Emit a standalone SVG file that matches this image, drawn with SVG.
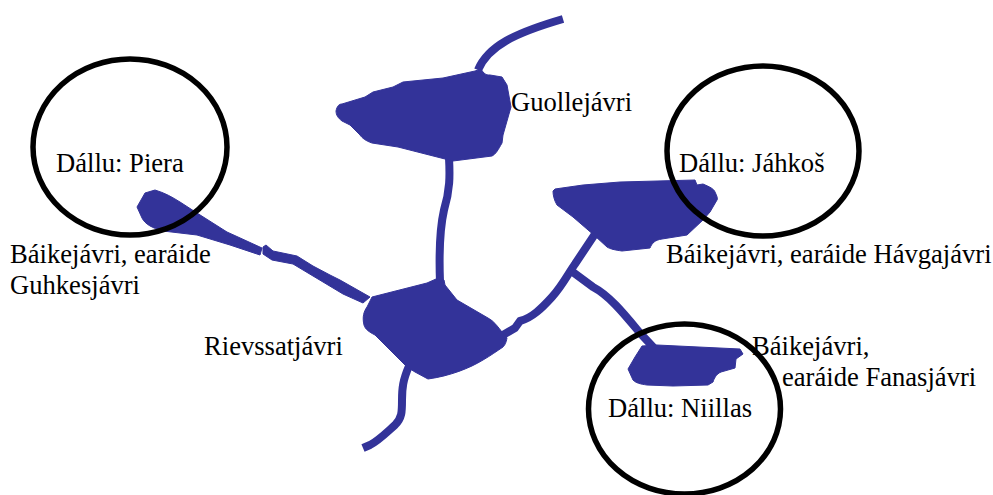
<svg xmlns="http://www.w3.org/2000/svg" width="993" height="495" viewBox="0 0 993 495">
<style>
.lake{fill:#333399;stroke:#333399;stroke-width:1;stroke-linejoin:round}
.river{fill:none;stroke:#333399;stroke-width:8;stroke-linejoin:round}
.ring{fill:none;stroke:#000;stroke-width:5.5}
text{font-family:"Liberation Serif","Times New Roman",serif;font-size:26.6px;fill:#000}
</style>
<rect width="993" height="495" fill="#fff"/>
<g id="connectors">
<path class="river" d="M478,70C488,46 515,33 563,19"/>
<path class="river" d="M449,158C450,176 450,190 444,210C439,232 439,255 440,282"/>
<path class="river" d="M409,366C403,380 402,388 402,400C402,412 402,418 395,425C385,434 378,441 370,445L363,448"/>
<path class="river" d="M503,335L515,328L520,321C532,318 542,308 552,297C562,286 568,274 575,264L595,234"/>
<path class="river" d="M570,270L593,287C610,296 625,315 640,333L654,348"/>
<path class="lake" d="M263,247L266,245L273,251L297,256L313,266L330,275L340,280L370,297L363,303L343,294L333,288L313,276L293,264L272,260L263,254Z"/>
</g>
<g id="lake-guollejavri"><path class="lake" d="M336,111C337,106 339,104 342,104L365,97L373,92L393,87L403,82L443,78L475,71L481,69C484,74 486,75 490,75L502,77L507,85L511,107L503,135L502,143C498,150 496,154 492,156L453,161L445,159L398,147L372,143C366,141 362,138 360,135L350,125L342,121C338,118 336,115 336,111Z"/><text x="511" y="111">Guollejávri</text></g>
<g id="lake-guhkesjavri"><path class="lake" d="M137,207L145,193L155,190C165,193 172,197 180,202L197,213L227,232L238,237L262,248L260,255L230,245L197,235L163,231C152,228 145,224 142,218Z"/><text x="10" y="263">Báikejávri, earáide</text><text x="10" y="294">Guhkesjávri</text></g>
<g id="lake-rievssatjavri"><path class="lake" d="M372,297L427,283L436,279L444,280L445,285L457,300L488,318C494,321 498,327 502,332L507,338C506,343 505,345 503,347C497,351 490,356 483,360C470,368 450,376 428,379L415,372L407,367L375,335C369,332 365,329 364,325C362,317 364,311 367,307Z"/><text x="204" y="355">Rievssatjávri</text></g>
<g id="lake-havgajavri"><path class="lake" d="M553,191L555,189L583,185L620,182L695,180L697,185L703,184C710,187 714,189 715,192C717,196 718,199 717,200L710,212L703,220L687,235L662,239C655,240 652,243 650,248L622,251C615,250 610,249 607,247L595,236L573,217L557,205C554,200 553,195 553,191Z"/><text x="666" y="263">Báikejávri, earáide Hávgajávri</text></g>
<g id="lake-fanasjavri"><path class="lake" d="M642,346L657,345L740,349L743,354L736,359L735,368L721,372C716,374 714,379 713,382L708,385L673,386L647,385C640,384 636,383 633,380L628,369L635,357Z"/><text x="752" y="355">Báikejávri,</text><text x="782" y="386">earáide Fanasjávri</text></g>
<g id="dallu-piera"><ellipse class="ring" cx="130" cy="147" rx="97" ry="88"/><text x="56" y="172">Dállu: Piera</text></g>
<g id="dallu-jahkos"><ellipse class="ring" cx="763" cy="151" rx="96" ry="85"/><text x="679" y="172">Dállu: Jáhkoš</text></g>
<g id="dallu-niillas"><ellipse class="ring" cx="684.5" cy="409" rx="96" ry="85"/><text x="608" y="417">Dállu: Niillas</text></g>
</svg>
